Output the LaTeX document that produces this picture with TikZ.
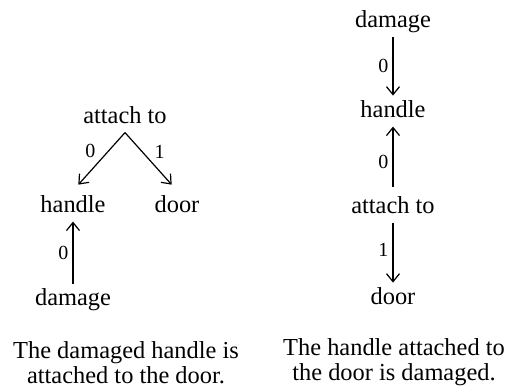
\documentclass[tikz,border=0pt]{standalone}
\usepackage{fontspec}
\setmainfont{Liberation Serif}
\usetikzlibrary{arrows.meta,positioning}

\begin{document}
\begin{tikzpicture}[
    x=0.5pt, y=-0.5pt,
    word/.style={font=\fontsize{12.2}{12.5}\selectfont, inner sep=2pt, text height=8.5pt, text depth=2.6pt, anchor=base},
    lbl/.style={font=\fontsize{10}{11}\selectfont, inner sep=1.5pt},
    caption/.style={font=\fontsize{12.2}{12.5}\selectfont, align=center, inner sep=0pt, anchor=base},
    arrow/.style={-{Straight Barb[length=4pt, width=6.5pt, line width=0.6pt]}, line width=0.6pt}
]
\useasboundingbox (0,0) rectangle (508,391);

% Left reading: attach to with two arguments
\node[word] (lat) at (125,123) {attach to};
\node[word] (lh) at (73,212) {handle};
\node[word] (ld) at (177,212) {door};
\node[word] (ldm) at (73,305) {damage};
\draw[arrow, shorten >=4pt] (lat.south) -- node[lbl, above left] {0} (lh.north);
\draw[arrow, shorten >=4pt] (lat.south) -- node[lbl, above right] {1} (ld.north);
\draw[arrow] (ldm.north) -- node[lbl, left, inner sep=2pt] {0} (lh.south);

% Right reading: chain from damage down to door
\node[word] (rdm) at (393,27) {damage};
\node[word] (rh) at (393,117) {handle};
\node[word] (rat) at (393,213) {attach to};
\node[word] (rdr) at (393,304) {door};
\draw[arrow] (rdm.south) -- node[lbl, left, inner sep=2pt] {0} (rh.north);
\draw[arrow, shorten <=2.5pt] (rat.north) -- node[lbl, left, inner sep=2pt, pos=0.45] {0} (rh.south);
\draw[arrow] (rat.south) -- node[lbl, left, inner sep=2pt, pos=0.45] {1} (rdr.north);

% Captions
\node[caption] (lcap) at (126,383) {The damaged handle is\\attached to the door.};
\node[caption] (rcap) at (394,380) {The handle attached to\\the door is damaged.};

\end{tikzpicture}
\end{document}
